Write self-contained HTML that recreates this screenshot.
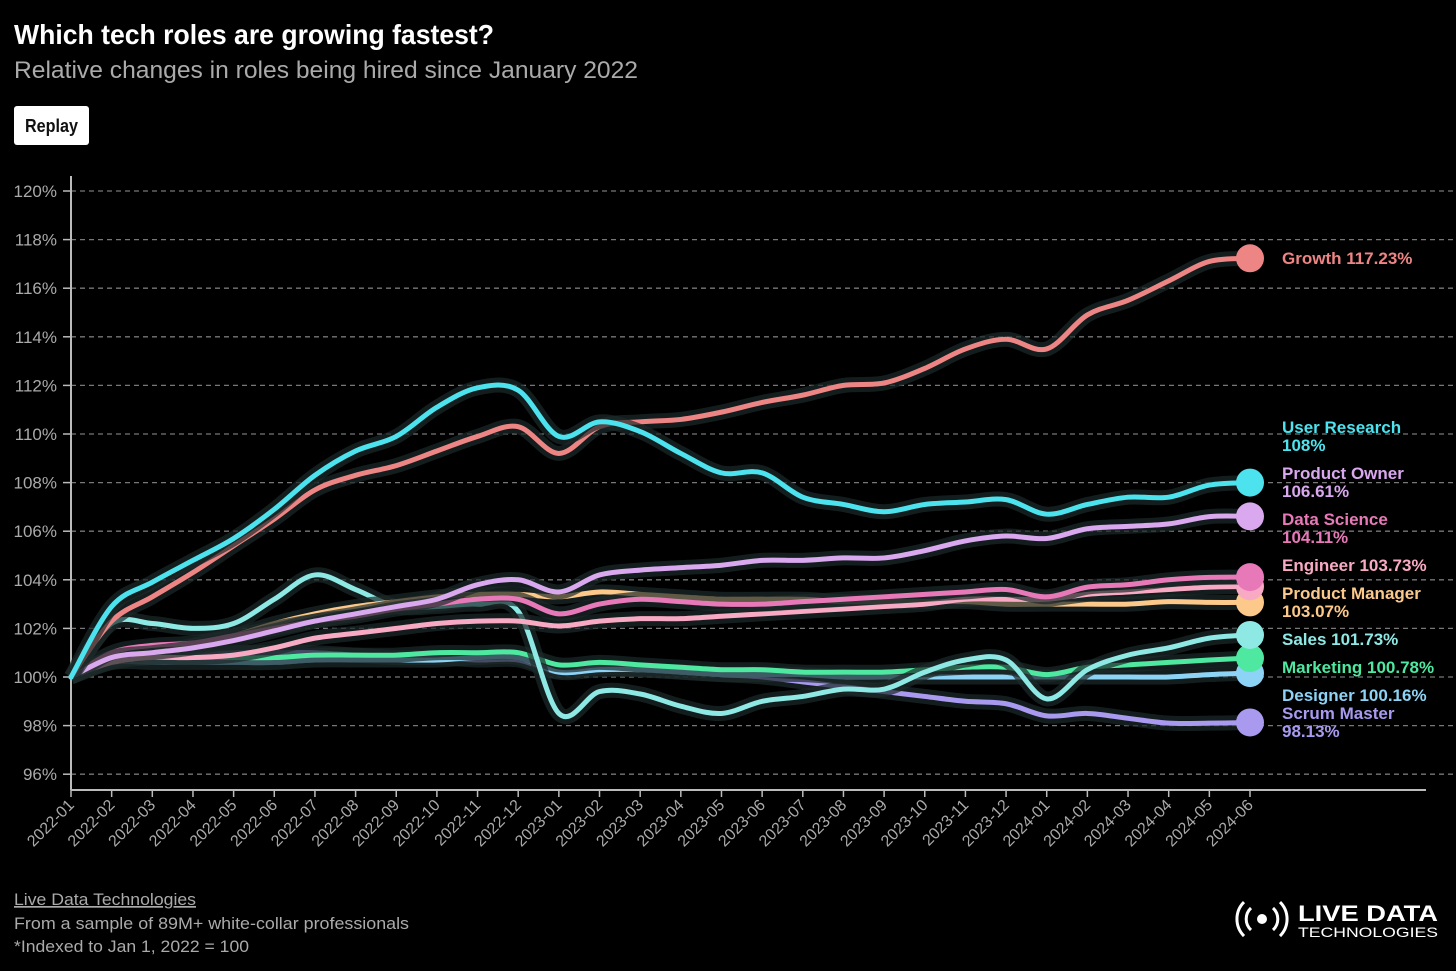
<!DOCTYPE html>
<html><head><meta charset="utf-8"><style>
html,body{margin:0;padding:0;background:#000;}
svg{display:block;font-family:"Liberation Sans",sans-serif;}
</style></head><body>
<svg id="chart" width="1456" height="971" viewBox="0 0 1456 971" xmlns="http://www.w3.org/2000/svg">
<rect width="1456" height="971" fill="#000"/>
<text x="14" y="44" fill="#fff" font-size="28" font-weight="bold" textLength="480" lengthAdjust="spacingAndGlyphs">Which tech roles are growing fastest?</text>
<text x="14" y="78" fill="#aaa" font-size="24" textLength="624" lengthAdjust="spacingAndGlyphs">Relative changes in roles being hired since January 2022</text>
<g>
<rect x="14" y="106" width="75" height="39" rx="3" fill="#fff"/>
<text x="51.5" y="132" fill="#111" font-size="18" font-weight="bold" text-anchor="middle" textLength="53" lengthAdjust="spacingAndGlyphs">Replay</text>
</g>
<g id="grid"></g>
<g id="axes"></g>
<g id="lines"></g>
<g id="labels"></g>
<text x="14" y="905" fill="#aaa" font-size="17" text-decoration="underline" textLength="182" lengthAdjust="spacingAndGlyphs">Live Data Technologies</text>
<text x="14" y="929" fill="#aaa" font-size="17" textLength="395" lengthAdjust="spacingAndGlyphs">From a sample of 89M+ white-collar professionals</text>
<text x="14" y="952" fill="#aaa" font-size="17" textLength="235" lengthAdjust="spacingAndGlyphs">*Indexed to Jan 1, 2022 = 100</text>
<g>
<circle cx="1262" cy="919" r="5" fill="#fff"/>
<path d="M1251 908 a15 15 0 0 0 0 22 M1273 908 a15 15 0 0 1 0 22" stroke="#fff" stroke-width="3" fill="none"/>
<path d="M1244 902 a24 24 0 0 0 0 34 M1280 902 a24 24 0 0 1 0 34" stroke="#fff" stroke-width="3" fill="none"/>
<text x="1298" y="921" fill="#fff" font-size="22" font-weight="bold" textLength="140" lengthAdjust="spacingAndGlyphs">LIVE DATA</text>
<text x="1298" y="937" fill="#fff" font-size="14" textLength="140" lengthAdjust="spacingAndGlyphs">TECHNOLOGIES</text>
</g>
</svg>
<script>
const months = ["2022-01","2022-02","2022-03","2022-04","2022-05","2022-06","2022-07","2022-08","2022-09","2022-10","2022-11","2022-12","2023-01","2023-02","2023-03","2023-04","2023-05","2023-06","2023-07","2023-08","2023-09","2023-10","2023-11","2023-12","2024-01","2024-02","2024-03","2024-04","2024-05","2024-06"];
const yTicks = [96,98,100,102,104,106,108,110,112,114,116,118,120];
const seriesNames = ["Scrum Master","Designer","Marketing","Sales","Product Manager","Engineer","Data Science","Product Owner","Growth","User Research"];
const seriesColors = ["#a99af0","#8cd3f5","#4fe8a0","#8ee8e4","#fcc98a","#f8aac4","#e879b8","#d9a8ee","#ee8585","#4de3ee"];
const scrumMaster = [100,100.7,100.8,100.9,101.0,101.0,101.0,100.9,100.8,100.8,100.7,100.7,100.2,100.4,100.3,100.2,100.1,100.0,99.8,99.6,99.4,99.2,99.0,98.9,98.4,98.5,98.3,98.1,98.1,98.13];
const designer = [100,100.6,100.6,100.6,100.6,100.6,100.7,100.7,100.7,100.7,100.8,100.8,100.2,100.3,100.3,100.2,100.1,100.1,100.1,100.0,100.0,100.0,100.0,100.0,100.0,100.0,100.0,100.0,100.1,100.16];
const marketing = [100,100.7,100.8,100.8,100.8,100.8,100.9,100.9,100.9,101.0,101.0,101.0,100.5,100.6,100.5,100.4,100.3,100.3,100.2,100.2,100.2,100.3,100.4,100.4,100.1,100.4,100.5,100.6,100.7,100.78];
const sales = [100,102.2,102.2,102.0,102.2,103.2,104.2,103.6,102.9,102.9,103.0,102.7,98.5,99.4,99.3,98.8,98.5,99.0,99.2,99.5,99.5,100.2,100.7,100.7,99.1,100.3,100.9,101.2,101.6,101.73];
const productManager = [100,100.8,101.0,101.3,101.7,102.2,102.6,102.9,103.1,103.3,103.4,103.4,103.3,103.5,103.4,103.3,103.2,103.2,103.2,103.1,103.1,103.1,103.1,103.0,103.0,103.0,103.0,103.1,103.07,103.07];
const engineer = [100,100.6,100.8,100.8,100.9,101.2,101.6,101.8,102.0,102.2,102.3,102.3,102.1,102.3,102.4,102.4,102.5,102.6,102.7,102.8,102.9,103.0,103.2,103.2,103.2,103.4,103.5,103.6,103.7,103.73];
const dataScience = [100,101.0,101.3,101.4,101.7,102.0,102.3,102.5,102.8,103.0,103.2,103.2,102.6,103.0,103.2,103.1,103.0,103.0,103.1,103.2,103.3,103.4,103.5,103.6,103.3,103.7,103.8,104.0,104.1,104.11];
const productOwner = [100,100.8,101.0,101.2,101.5,101.9,102.3,102.6,102.9,103.2,103.8,104.0,103.5,104.2,104.4,104.5,104.6,104.8,104.8,104.9,104.9,105.2,105.6,105.8,105.7,106.1,106.2,106.3,106.6,106.61];
const growth = [100,102.3,103.3,104.3,105.4,106.5,107.7,108.3,108.7,109.3,109.9,110.3,109.2,110.3,110.5,110.6,110.9,111.3,111.6,112.0,112.1,112.7,113.5,113.9,113.5,114.9,115.5,116.3,117.1,117.23];
const userResearch = [100,102.9,103.9,104.8,105.7,106.9,108.3,109.3,109.9,111.1,111.9,111.8,109.9,110.5,110.1,109.2,108.4,108.4,107.4,107.1,106.8,107.1,107.2,107.3,106.7,107.1,107.4,107.4,107.9,108.0];
const seriesValues = [scrumMaster,designer,marketing,sales,productManager,engineer,dataScience,productOwner,growth,userResearch];
const labelTexts = [["Scrum Master","98.13%"],["Designer 100.16%"],["Marketing 100.78%"],["Sales 101.73%"],["Product Manager","103.07%"],["Engineer 103.73%"],["Data Science","104.11%"],["Product Owner","106.61%"],["Growth 117.23%"],["User Research","108%"]];
const labelYs = [719,701,673,645,599,571,525,479,264,433];

const NS="http://www.w3.org/2000/svg";
const X0=71,X1=1250,Y100=677,PPU=24.3;
const xs=i=>X0+(X1-X0)*i/(months.length-1);
const ys=v=>Y100-(v-100)*PPU;
function mk(tag,attrs,parent){const e=document.createElementNS(NS,tag);for(const k in attrs)e.setAttribute(k,attrs[k]);parent.appendChild(e);return e;}
const grid=document.getElementById('grid'),axes=document.getElementById('axes'),lines=document.getElementById('lines'),labels=document.getElementById('labels');
yTicks.forEach(t=>{
  const y=ys(t);
  const gl=mk('line',{x1:X0,x2:1456,y1:y,y2:y,stroke:'#777','stroke-dasharray':'5,4','stroke-width':1.3},grid);
  
  
  mk('line',{x1:X0-8,x2:X0,y1:y,y2:y,stroke:'#bbb','stroke-width':1.5},axes);
  const tx=mk('text',{x:X0-14,y:y+6,fill:'#aaa','font-size':17,'text-anchor':'end'},axes);
  tx.textContent=t+'%';
  
  
});
const ya=mk('line',{x1:X0,x2:X0,y1:176,y2:790,stroke:'#bbb','stroke-width':2},axes);


const xa=mk('line',{x1:X0,x2:1426,y1:790,y2:790,stroke:'#bbb','stroke-width':2},axes);


months.forEach((m,i)=>{
  const x=xs(i);
  mk('line',{x1:x,x2:x,y1:790,y2:797,stroke:'#bbb','stroke-width':1.5},axes);
  const t=mk('text',{x:x+4,y:806,fill:'#aaa','font-size':16,'text-anchor':'end',transform:`rotate(-45 ${x+4} 806)`},axes);
  t.textContent=m;
  
  
});
function pathD(vals){
  const p=vals.map((v,i)=>[xs(i),ys(v)]);
  let d=`M${p[0][0]},${p[0][1]}`;
  for(let i=0;i<p.length-1;i++){
    const p0=p[Math.max(0,i-1)],p1=p[i],p2=p[i+1],p3=p[Math.min(p.length-1,i+2)];
    const c1=[p1[0]+(p2[0]-p0[0])/6,p1[1]+(p2[1]-p0[1])/6];
    const c2=[p2[0]-(p3[0]-p1[0])/6,p2[1]-(p3[1]-p1[1])/6];
    d+=` C${c1[0]},${c1[1]} ${c2[0]},${c2[1]} ${p2[0]},${p2[1]}`;
  }
  return d;
}
seriesValues.forEach((vals,k)=>{
  const g=mk('g',{},lines);
  
  
  const d=pathD(vals);
  mk('path',{d,stroke:'#1c2a2a','stroke-width':15,fill:'none','stroke-opacity':0.7,'stroke-linejoin':'round'},g);
  const ln=mk('path',{d,stroke:seriesColors[k],'stroke-width':5,fill:'none','stroke-linejoin':'round','stroke-linecap':'round'},g);
  
  
  const last=vals.length-1;
  const c=mk('circle',{cx:xs(last),cy:ys(vals[last]),r:14,fill:seriesColors[k]},g);
  
  
  const t=mk('text',{x:1282,y:labelYs[k],fill:seriesColors[k],'font-size':17,'font-weight':'bold'},labels);
  
  
  labelTexts[k].forEach((s,j)=>{
    const ts=mk('tspan',{x:1282,dy:j?18:0},t);ts.textContent=s;
  });
});
</script>
</body></html>
